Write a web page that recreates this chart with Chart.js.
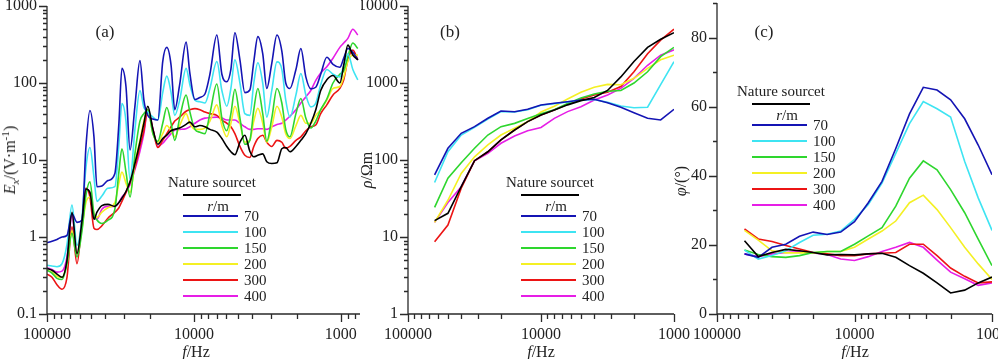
<!DOCTYPE html>
<html>
<head>
<meta charset="utf-8">
<script src="https://cdn.jsdelivr.net/npm/chart.js@4.4.1/dist/chart.umd.min.js"></script>
<style>
  body { margin: 0; background: #fff; width: 998px; height: 359px; position: relative; overflow: hidden;
         font-family: "Liberation Serif", "Times New Roman", serif; color: #222; }
  canvas { position: absolute; top: 0; }
  .t { position: absolute; white-space: nowrap; line-height: 1; font-size: 15px; transform: translate(0, -50%); }
  .c { transform: translate(-50%, -50%); }
  .rot { transform: translate(-50%, -50%) rotate(-90deg); font-size: 16px; }
  .ln { position: absolute; height: 2px; }
  sub, sup { font-size: 70%; line-height: 0; }
</style>
</head>
<body>
<canvas id="ca" width="375" height="359" style="left:0px"></canvas>
<canvas id="cb" width="345" height="359" style="left:361px"></canvas>
<canvas id="cc" width="328" height="359" style="left:670px"></canvas>
<div id="overlay"></div>
<script>
// ---- panel (a): E_x vs frequency ----
const freqA = [100000, 92500, 85500, 79000, 73100, 67600, 62500, 57800, 54300, 51000,
  47900, 45700, 42300, 38500, 34500, 32400, 30900, 29000, 27200, 25200,
  23300, 21900, 20600, 19000, 17600, 16300, 15300, 14300, 13500, 12500,
  11300, 10650, 9840, 9100, 8410, 7780, 6980, 6450, 5970, 5600,
  5260, 4860, 4500, 4160, 3910, 3670, 3400, 3190, 2950, 2720,
  2520, 2370, 2220, 2020, 1870, 1730, 1600, 1480, 1370, 1245,
  1130, 1015, 955, 895, 828, 766];

const eA70 = [0.84, 0.88, 0.93, 1.0, 1.05, 2.0, 1.55, 1.65, 15, 44,
  20, 4.5, 4.6, 5.4, 6.7, 30, 155, 90, 13.5, 50,
  195, 60, 38, 34, 33, 190, 290, 170, 45, 95,
  340, 133, 61, 65, 72, 130, 420, 130, 104, 150,
  450, 200, 75, 81, 190, 400, 240, 85, 180, 420,
  260, 100, 85, 150, 280, 120, 84, 88, 130, 216,
  175, 160, 210, 280, 250, 200];
const eA100 = [0.43, 0.42, 0.41, 0.45, 0.8, 2.6, 0.78, 1.8, 8, 14.5,
  6, 2.9, 3.4, 4.3, 4.5, 16, 54, 32, 5.5, 25,
  80, 48, 42, 36, 33, 75, 123, 75, 38, 60,
  155, 95, 60, 57, 55, 85, 190, 80, 50, 85,
  200, 100, 40, 38, 100, 183, 100, 36, 80, 188,
  150, 60, 36, 70, 133, 70, 49, 55, 95, 150,
  130, 120, 170, 240, 150, 110];
const eA150 = [0.37, 0.34, 0.29, 0.28, 0.45, 1.12, 0.55, 1.2, 3.5, 5.2,
  2.0, 1.66, 1.5, 1.65, 2.3, 7, 14, 7, 3.3, 12,
  32, 40, 45, 22, 17.5, 30, 48, 30, 18, 35,
  70, 42, 25, 23, 22, 40, 97, 35, 24, 40,
  83, 35, 16, 18, 45, 85, 40, 17.5, 35, 85,
  55, 25, 20, 40, 63, 35, 26, 32, 45, 62,
  100, 130, 145, 220, 330, 280];
const eA200 = [0.37, 0.35, 0.31, 0.30, 0.45, 1.2, 0.6, 1.3, 2.8, 3.3,
  2.0, 1.8, 2.1, 2.4, 2.8, 5.0, 7.0, 5.0, 3.8, 9,
  18, 32, 45, 22, 17, 22, 28, 24, 20, 28,
  40, 30, 25, 25, 26, 32, 52, 28, 20, 30,
  50, 30, 17, 18, 32, 47, 30, 17, 27, 50,
  36, 22, 19, 28, 38, 30, 30, 38, 45, 60,
  85, 90, 120, 190, 230, 230];
const eA300 = [0.33, 0.30, 0.24, 0.21, 0.3, 1.36, 0.45, 1.6, 4.3, 3.3,
  1.3, 1.25, 1.4, 1.75, 2.1, 2.4, 2.9, 3.8, 5.2, 8,
  15, 24, 45, 25, 14.5, 18, 22, 27, 32, 36,
  43, 45, 46.5, 45, 42, 40, 38, 33, 30, 27,
  22, 15, 11.5, 10.8, 15, 19, 21, 17, 15, 18,
  17, 14.2, 15, 18, 20, 24, 27, 28.5, 40, 52,
  70, 85, 110, 200, 267, 200];
const eA400 = [0.40, 0.38, 0.35, 0.36, 0.55, 1.9, 0.58, 1.7, 4.3, 3.6,
  1.8, 1.7, 2.3, 2.5, 2.5, 2.8, 3.3, 3.8, 4.8, 7.5,
  13, 22, 45, 25, 15, 16.5, 19, 22, 24.5, 25,
  25.5, 27, 30, 33, 35, 35.5, 36, 35, 33, 33,
  33, 30, 27, 25, 25, 25.5, 25.5, 25, 27, 29,
  30, 33, 37, 45, 55, 66, 80, 108, 135, 163,
  210, 290, 330, 380, 500, 420];
const eANat = [0.39, 0.37, 0.33, 0.30, 0.5, 2.1, 0.61, 1.6, 4.2, 3.8,
  1.7, 2.1, 2.55, 2.65, 2.5, 2.8, 3.2, 3.9, 5.2, 9,
  17, 30, 50, 25, 16, 19, 21, 24, 25, 26,
  29, 31, 27, 28, 27, 25, 23, 19, 15, 12.8,
  11.7, 17, 21, 13, 11, 11.5, 12, 9.5, 9, 9.2,
  14, 14.5, 12.8, 15, 18, 22, 30, 45, 80, 110,
  125, 100, 170, 310, 230, 200];

// ---- panels (b) and (c): rho and phi vs frequency ----
const freqBC = [63100, 50100, 39800, 31600, 25100, 20000, 15800, 12600, 10000, 7940,
  6310, 5010, 3980, 3160, 2510, 2000, 1580, 1260, 1000];

const rhoB70 = [64, 142, 222, 271, 348, 433, 424, 455, 518, 545, 572, 601, 614, 555, 484, 411, 348, 331, 455];
const rhoB100 = [51, 128, 211, 265, 340, 425, 420, 450, 515, 540, 568, 598, 610, 560, 503, 478, 484, 950, 1890];
const rhoB150 = [24.3, 58, 92, 142, 211, 271, 299, 345, 400, 450, 540, 640, 720, 780, 800, 1000, 1400, 2200, 2900];
const rhoB200 = [15.5, 30, 67, 110, 157, 211, 258, 315, 420, 500, 620, 760, 880, 960, 950, 1150, 1550, 2000, 2300];
const rhoB300 = [8.7, 14.3, 43, 98, 128, 182, 245, 315, 384, 446, 530, 620, 700, 760, 900, 1400, 2400, 3600, 5000];
const rhoB400 = [15.5, 28, 45, 98, 122, 165, 205, 240, 265, 347, 425, 492, 600, 700, 850, 1150, 1700, 2300, 2700];
const rhoBNat = [16.3, 20.3, 45, 98, 128, 182, 245, 315, 384, 446, 520, 590, 650, 800, 1200, 1900, 2900, 3700, 4500];

const phiC70 = [17.4, 16.4, 19.3, 20.2, 22.5, 23.7, 23.0, 23.7, 26.7, 32.2, 38.4, 47.9, 57.9, 65.6, 64.8, 62.0, 56.5, 48.9, 40.3];
const phiC100 = [18.5, 15.9, 16.9, 18.3, 20.7, 22.8, 23.1, 24.0, 27.4, 31.7, 37.9, 46.5, 55.1, 61.5, 59.4, 57.0, 44.1, 33.6, 24.2];
const phiC150 = [18.5, 17.2, 16.6, 16.4, 16.9, 17.8, 18.1, 18.1, 20.2, 22.6, 25.0, 31.2, 39.3, 44.3, 41.7, 36.0, 29.3, 21.7, 14.0];
const phiC200 = [24.2, 21.4, 18.3, 17.7, 17.7, 17.7, 18.1, 18.1, 19.3, 21.7, 24.0, 26.9, 32.2, 34.4, 30.2, 25.0, 19.3, 14.5, 10.0];
const phiC300 = [24.6, 21.7, 21.0, 19.8, 18.8, 17.8, 17.4, 16.9, 16.9, 17.4, 17.6, 17.8, 20.2, 20.2, 16.9, 13.3, 10.9, 9.0, 9.3];
const phiC400 = [17.4, 16.6, 17.4, 17.8, 18.1, 17.7, 17.2, 15.9, 15.5, 16.6, 18.1, 19.3, 20.7, 19.3, 15.6, 12.1, 10.2, 8.3, 9.0];
const phiCNat = [21.2, 16.6, 17.8, 18.7, 18.3, 17.8, 17.1, 17.2, 17.1, 17.4, 17.6, 16.4, 14.0, 11.8, 9.0, 6.1, 6.9, 9.0, 10.7];

const distances = ['70', '100', '150', '200', '300', '400'];
const colors = ['#1414b4', '#3ee4f2', '#2ed62e', '#f4f024', '#ec1414', '#e61ee6'];
const natureColor = '#000000';

const xTickLabels = [100000, 10000, 1000];
const yTickLabelsA = [0.1, 1, 10, 100, 1000];
const yTickLabelsB = [1, 10, 100, 1000, 10000];
const yTickLabelsC = [0, 20, 40, 60, 80];

const tickFont = { family: 'Liberation Serif', size: 16 };

function near(list, v) {
  return list.some(l => Math.abs(l - v) < 1e-6 * Math.max(1, Math.abs(l)));
}
function isDecade(v) {
  const e = Math.log10(v);
  return Math.abs(e - Math.round(e)) < 1e-6;
}
// drop Chart.js' extra 1.5x ticks and the min/max end ticks
function integerTicks(scale) {
  scale.ticks = scale.ticks.filter(t => {
    const m = t.value / Math.pow(10, Math.floor(Math.log10(t.value) + 1e-9));
    return Math.abs(m - Math.round(m)) < 1e-6;
  });
}

// axis lines + outward tick marks, drawn from the chart's scales
const axisMarks = {
  id: 'axisMarks',
  afterDraw(chart) {
    const { ctx, chartArea: a, scales: { x, y } } = chart;
    ctx.save();
    ctx.strokeStyle = '#2a2a2a';
    ctx.lineWidth = 1.3;
    ctx.beginPath();
    ctx.moveTo(a.left, a.top);
    ctx.lineTo(a.left, a.bottom);
    ctx.lineTo(a.right, a.bottom);
    x.ticks.forEach(t => {
      const p = Math.round(x.getPixelForValue(t.value)) + 0.5;
      const len = isDecade(t.value) ? 8 : 5;
      ctx.moveTo(p, a.bottom);
      ctx.lineTo(p, a.bottom + len);
    });
    y.ticks.forEach(t => {
      const p = Math.round(y.getPixelForValue(t.value)) + 0.5;
      const major = y.type === 'logarithmic' ? isDecade(t.value) : t.value % 20 === 0;
      ctx.moveTo(a.left, p);
      ctx.lineTo(a.left - (major ? 8 : 4), p);
    });
    ctx.stroke();
    ctx.restore();
  }
};

function datasets(series, nature, smooth) {
  const list = [{ data: nature, borderColor: natureColor }];
  series.forEach((s, i) => list.push({ data: s, borderColor: colors[i] }));
  return list.map(d => Object.assign(d, {
    borderWidth: 1.6, pointRadius: 0, fill: false,
    tension: 0, cubicInterpolationMode: smooth ? 'monotone' : 'default'
  }));
}

function panel(id, labels, sets, xMin, yScale, padTop, padRight) {
  return new Chart(document.getElementById(id), {
    type: 'line',
    data: { labels, datasets: sets },
    options: {
      responsive: false,
      animation: false,
      layout: { padding: { top: padTop, right: padRight, left: 0, bottom: 0 } },
      plugins: { legend: { display: false }, tooltip: { enabled: false } },
      scales: {
        x: {
          type: 'logarithmic', reverse: true, min: xMin, max: 100000,
          grid: { display: false, drawTicks: false }, border: { display: false },
          afterBuildTicks: integerTicks,
          afterFit: s => { s.height = 45; s.paddingLeft = 0; s.paddingRight = 0; },
          ticks: {
            autoSkip: false, maxRotation: 0, padding: 11, font: tickFont, color: '#222',
            callback: v => near(xTickLabels, v) ? String(v) : ''
          }
        },
        y: Object.assign({
          grid: { display: false, drawTicks: false }, border: { display: false },
          afterFit: s => { s.width = 47; s.paddingTop = 0; s.paddingBottom = 0; }
        }, yScale)
      }
    },
    plugins: [axisMarks]
  });
}

panel('ca', freqA, datasets([eA70, eA100, eA150, eA200, eA300, eA400], eANat, true), 740, {
  type: 'logarithmic', min: 0.1, max: 1000, afterBuildTicks: integerTicks,
  ticks: { autoSkip: false, padding: 10, font: tickFont, color: '#222',
    callback: v => near(yTickLabelsA, v) ? String(v) : '' }
}, 6, 15);

panel('cb', freqBC, datasets([rhoB70, rhoB100, rhoB150, rhoB200, rhoB300, rhoB400], rhoBNat, false), 1000, {
  type: 'logarithmic', min: 1, max: 10000, afterBuildTicks: integerTicks,
  ticks: { autoSkip: false, padding: 10, font: tickFont, color: '#222',
    callback: v => near(yTickLabelsB, v) ? String(v) : '' }
}, 6, 32);

panel('cc', freqBC, datasets([phiC70, phiC100, phiC150, phiC200, phiC300, phiC400], phiCNat, false), 1000, {
  type: 'linear', min: 0, max: 90,
  ticks: { stepSize: 10, autoSkip: false, padding: 10, font: tickFont, color: '#222',
    callback: v => near(yTickLabelsC, v) ? String(v) : '' }
}, 3, 6);

// ---- text overlay: panel letters, axis titles, legends ----
const overlay = document.getElementById('overlay');
function put(html, x, y, cls, extra) {
  const d = document.createElement('div');
  d.className = cls;
  d.innerHTML = html;
  d.style.left = x + 'px';
  d.style.top = y + 'px';
  if (extra) Object.assign(d.style, extra);
  overlay.appendChild(d);
  return d;
}
function line(x, y, w, color) {
  const d = document.createElement('div');
  d.className = 'ln';
  Object.assign(d.style, { left: x + 'px', top: (y - 1) + 'px', width: w + 'px', background: color });
  overlay.appendChild(d);
}

put('(a)', 105, 31, 't c', { fontSize: '17px' });
put('(b)', 450, 31, 't c', { fontSize: '17px' });
put('(c)', 764, 31, 't c', { fontSize: '17px' });

put('<i>f</i>/Hz', 196, 352, 't c', { fontSize: '16px' });
put('<i>f</i>/Hz', 541, 352, 't c', { fontSize: '16px' });
put('<i>f</i>/Hz', 855, 352, 't c', { fontSize: '16px' });

put('<i>E<sub>x</sub></i>/(V·m<sup>-1</sup>)', 10, 160, 't rot');
put('<i>ρ</i>/Ωm', 367, 170, 't rot');
put('<i>φ</i>/(°)', 681, 181, 't rot');

function legend(x0, y0, step) {
  put('Nature sourcet', x0, y0, 't', { fontSize: '15px' });
  line(x0 + 15, y0 + 12.5, 58, natureColor);
  put('<i>r</i>/m', x0 + 50, y0 + 24, 't c', { fontSize: '15px' });
  distances.forEach((name, i) => {
    const yy = y0 + 34 + step * i;
    line(x0 + 15, yy, 55, colors[i]);
    put(name, x0 + 76, yy, 't', { fontSize: '15px' });
  });
}
legend(168, 182, 16);
legend(506, 182, 16);
legend(737, 91, 15.9);
</script>
</body>
</html>
